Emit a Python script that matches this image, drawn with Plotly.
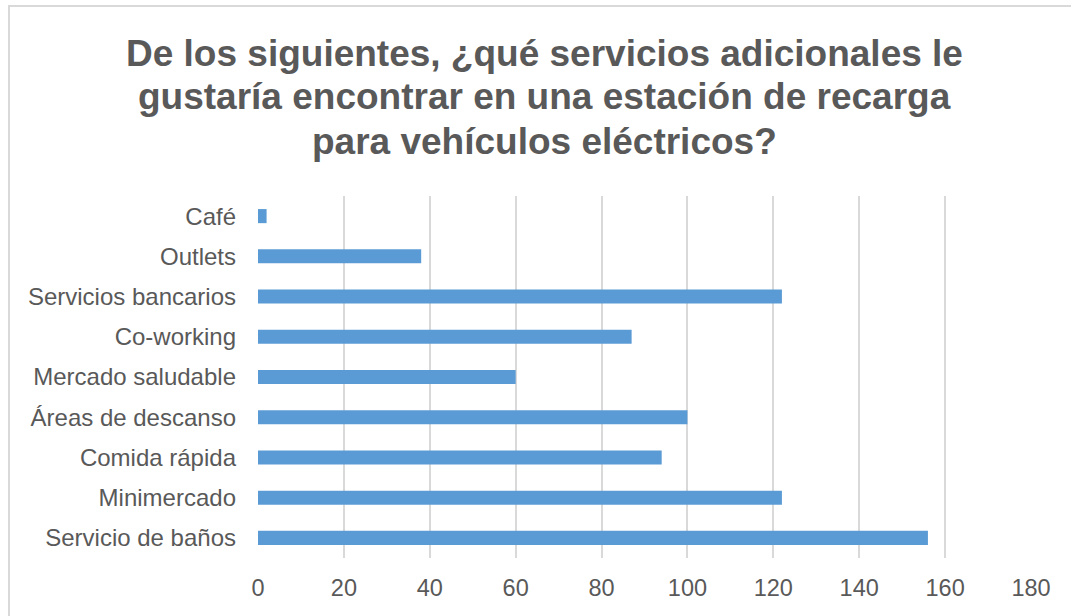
import plotly.graph_objects as go

categories = [
    "Servicio de baños",
    "Minimercado",
    "Comida rápida",
    "Áreas de descanso",
    "Mercado saludable",
    "Co-working",
    "Servicios bancarios",
    "Outlets",
    "Café",
]
values = [156, 122, 94, 100, 60, 87, 122, 38, 2]
x_ticks = [0, 20, 40, 60, 80, 100, 120, 140, 160, 180]
title_lines = [
    "De los siguientes, ¿qué servicios adicionales le",
    "gustaría encontrar en una estación de recarga",
    "para vehículos eléctricos?",
]

W, H = 1071, 616
L, R, T, B = 258, 40, 196, 58
PW, PH = W - L - R, H - T - B

def px_x(px):
    return (px - L) / PW

def px_y(py):
    return (H - B - py) / PH

fig = go.Figure(
    go.Bar(
        x=values,
        y=categories,
        orientation="h",
        marker=dict(color="#5b9bd5", line=dict(width=0)),
        width=0.35,
        hoverinfo="x+y",
    )
)

annotations = []
for line, cy in zip(title_lines, [53, 97, 141]):
    annotations.append(
        dict(
            text="<b>" + line + "</b>",
            x=px_x(544),
            y=px_y(cy),
            xref="paper",
            yref="paper",
            xanchor="center",
            yanchor="middle",
            showarrow=False,
            font=dict(family="Liberation Sans, Arial, sans-serif", size=37, color="#595959"),
        )
    )

fig.update_layout(
    width=W,
    height=H,
    margin=dict(l=L, r=R, t=T, b=B),
    paper_bgcolor="white",
    plot_bgcolor="white",
    showlegend=False,
    annotations=annotations,
    shapes=[
        dict(
            type="rect",
            xref="paper",
            yref="paper",
            x0=px_x(9),
            x1=px_x(1090),
            y0=px_y(640),
            y1=px_y(6),
            line=dict(color="#d9d9d9", width=2),
            fillcolor="rgba(0,0,0,0)",
            layer="below",
        )
    ],
    font=dict(family="Liberation Sans, Arial, sans-serif", color="#595959"),
)

fig.update_xaxes(
    range=[0, 180],
    tickvals=x_ticks,
    showgrid=True,
    gridcolor="#d9d9d9",
    gridwidth=2,
    zeroline=False,
    showline=False,
    ticks="",
    ticklabelstandoff=13,
    tickfont=dict(size=23.5, color="#595959"),
    automargin=False,
    fixedrange=True,
)
fig.update_yaxes(
    showgrid=False,
    zeroline=False,
    showline=False,
    ticks="",
    ticklabelstandoff=21,
    tickfont=dict(size=24, color="#595959"),
    automargin=False,
    fixedrange=True,
)

fig.write_html(
    "out.html",
    config={"displayModeBar": False},
    post_script="document.body.style.margin='0';document.body.style.overflow='hidden';",
)
